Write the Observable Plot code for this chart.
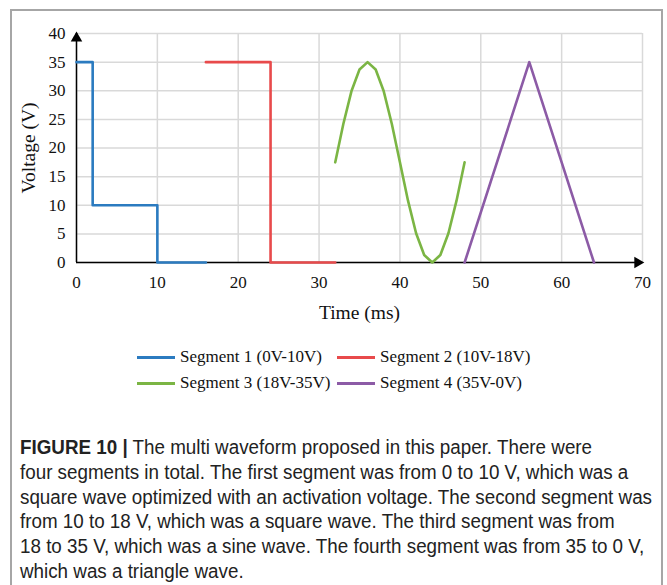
<!DOCTYPE html>
<html>
<head>
<meta charset="utf-8">
<script src="https://cdn.jsdelivr.net/npm/d3@7"></script>
<script src="https://cdn.jsdelivr.net/npm/@observablehq/plot@0.6"></script>
<style>
  html, body { margin: 0; padding: 0; background: #fff; }
  #page { position: relative; width: 667px; height: 585px; overflow: hidden; }
  #box { position: absolute; left: 10px; top: 9px; width: 649px; height: 620px; border: 2px solid #a6a6a6; }
  #chart { position: absolute; left: 0; top: 0; }
  #legend { position: absolute; left: 0; top: 347px; width: 667px; font-family: "Liberation Serif", serif; font-size: 17px; color: #111; }
  .item { position: absolute; display: flex; align-items: center; white-space: nowrap; }
  .swatch { width: 38px; height: 3px; margin-right: 5px; }
  #caption { position: absolute; left: 20px; top: 435px; display: inline-block; font-family: "Liberation Sans Narrow", "Liberation Sans", sans-serif; font-size: 19.4px; line-height: 24.8px; color: #222; white-space: nowrap; transform-origin: 0 0; }
</style>
</head>
<body>
<div id="page">
  <div id="box"></div>
  <div id="chart"></div>
  <div id="legend"></div>
  <div id="caption"><b>FIGURE 10 |</b> The multi waveform proposed in this paper. There were<br>four segments in total. The first segment was from 0 to 10 V, which was a<br>square wave optimized with an activation voltage. The second segment was<br>from 10 to 18 V, which was a square wave. The third segment was from<br>18 to 35 V, which was a sine wave. The fourth segment was from 35 to 0 V,<br>which was a triangle wave.</div>
</div>
<script>
// ---- data ----
const seriesNames = ["Segment 1 (0V-10V)", "Segment 2 (10V-18V)", "Segment 3 (18V-35V)", "Segment 4 (35V-0V)"];
const seriesColors = ["#2b7bc0", "#e84a4b", "#7bb544", "#8c5ba6"];

const seg1Time = [0, 2, 2, 10, 10, 16];
const seg1Volt = [35, 35, 10, 10, 0, 0];

const seg2Time = [16, 24, 24, 32];
const seg2Volt = [35, 35, 0, 0];

const seg3Time = [32, 33, 34, 35, 36, 37, 38, 39, 40, 41, 42, 43, 44, 45, 46, 47, 48];
const seg3Volt = [17.5, 24.2, 29.9, 33.7, 35, 33.7, 29.9, 24.2, 17.5, 10.8, 5.1, 1.3, 0, 1.3, 5.1, 10.8, 17.5];

const seg4Time = [48, 56, 64];
const seg4Volt = [0, 35, 0];

const xTicks = [0, 10, 20, 30, 40, 50, 60, 70];
const yTicks = [0, 5, 10, 15, 20, 25, 30, 35, 40];
const xLabel = "Time (ms)";
const yLabel = "Voltage (V)";

// ---- build ----
const segs = [
  [seg1Time, seg1Volt],
  [seg2Time, seg2Volt],
  [seg3Time, seg3Volt],
  [seg4Time, seg4Volt]
].map(([t, v]) => t.map((d, i) => ({t: d, v: v[i]})));

const chart = Plot.plot({
  width: 667,
  height: 330,
  marginLeft: 76,
  marginRight: 25,
  marginTop: 33,
  marginBottom: 68,
  style: { fontFamily: "'Liberation Serif', serif", fontSize: "17px", color: "#111", background: "transparent" },
  x: { domain: [0, 70], ticks: xTicks, tickSize: 0, tickPadding: 13, label: null },
  y: { domain: [0, 40], ticks: yTicks, tickSize: 0, tickPadding: 11, label: null },
  marks: [
    Plot.ruleX(xTicks, { stroke: "#d9d9d9", strokeWidth: 1.5 }),
    Plot.ruleY(yTicks, { stroke: "#d9d9d9", strokeWidth: 1.5 }),
    Plot.ruleX([xTicks[0]], { stroke: "#000", strokeWidth: 1.5 }),
    Plot.ruleY([yTicks[0]], { stroke: "#000", strokeWidth: 1.5 }),
    ...segs.map((d, i) => Plot.line(d, { x: "t", y: "v", stroke: seriesColors[i], strokeWidth: 2.6, curve: "linear" })),
    Plot.dot([{ t: xTicks[0], v: 39.2 }], { x: "t", y: "v", symbol: "triangle2", r: 5.5, fill: "#000" }),
    Plot.dot([{ t: 69.4, v: yTicks[0] }], { x: "t", y: "v", symbol: "triangle2", r: 5.5, fill: "#000", rotate: 90 }),
    Plot.text([xLabel], { frameAnchor: "bottom", dy: 56, text: d => d, fontSize: 19.5, fill: "#111" }),
    Plot.text([yLabel], { frameAnchor: "left", dx: -48, rotate: -90, textAnchor: "middle", text: d => d, fontSize: 19.5, fill: "#111" })
  ]
});
document.getElementById("chart").appendChild(chart);

// ---- legend ----
const legend = document.getElementById("legend");
const positions = [[137, 0], [337, 0], [137, 26], [337, 26]];
seriesNames.forEach((name, i) => {
  const item = document.createElement("div");
  item.className = "item";
  item.style.left = positions[i][0] + "px";
  item.style.top = positions[i][1] + "px";
  const sw = document.createElement("span");
  sw.className = "swatch";
  sw.style.background = seriesColors[i];
  const tx = document.createElement("span");
  tx.textContent = name;
  item.appendChild(sw);
  item.appendChild(tx);
  legend.appendChild(item);
});

// ---- fit caption width to the reference's text block (about 632px) ----
const cap = document.getElementById("caption");
const w = cap.getBoundingClientRect().width;
if (w > 0) cap.style.transform = `scaleX(${Math.min(1, 632 / w)})`;
</script>
</body>
</html>
